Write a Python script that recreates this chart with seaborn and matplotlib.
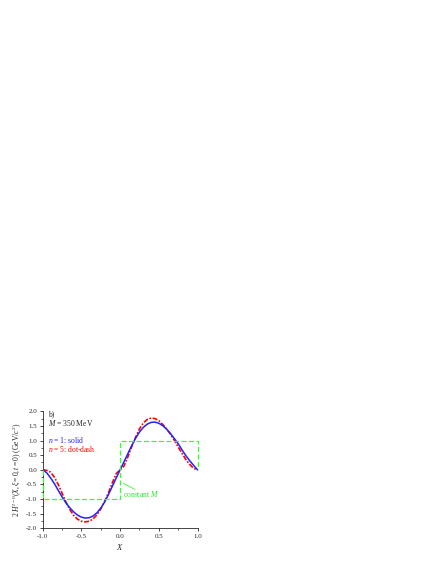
# H^{I=0}(X) for n = 1 and n = 5, with the constant-M step
import numpy as np
import pandas as pd
import matplotlib
matplotlib.use("Agg")
import matplotlib.pyplot as plt
import seaborn as sb

# values
x_grid = [-1.00, -0.95, -0.90, -0.85, -0.80, -0.75, -0.70, -0.65, -0.60, -0.55,
          -0.50, -0.45, -0.40, -0.35, -0.30, -0.25, -0.20, -0.15, -0.10, -0.05,
          0.00, 0.05, 0.10, 0.15, 0.20, 0.25, 0.30, 0.35, 0.40, 0.45,
          0.50, 0.55, 0.60, 0.65, 0.70, 0.75, 0.80, 0.85, 0.90, 0.95, 1.00]
h_n1 = [0.00, -0.10, -0.27, -0.47, -0.70, -0.93, -1.13, -1.30, -1.44, -1.55,
        -1.62, -1.65, -1.64, -1.58, -1.47, -1.31, -1.10, -0.84, -0.56, -0.28,
        0.00, 0.27, 0.55, 0.83, 1.08, 1.29, 1.45, 1.56, 1.62, 1.63,
        1.59, 1.51, 1.39, 1.24, 1.07, 0.89, 0.68, 0.48, 0.31, 0.15, 0.00]
h_n5 = [0.00, -0.02, -0.08, -0.25, -0.50, -0.80, -1.10, -1.36, -1.56, -1.69,
        -1.76, -1.78, -1.76, -1.68, -1.54, -1.34, -1.08, -0.78, -0.44, -0.13,
        0.00, 0.13, 0.44, 0.79, 1.11, 1.40, 1.60, 1.72, 1.77, 1.75,
        1.68, 1.55, 1.40, 1.22, 1.01, 0.78, 0.56, 0.35, 0.18, 0.05, 0.00]
const_x = [-1.0, -1.0, 0.0, 0.0, 1.0, 1.0]
const_y = [0.0, -1.0, -1.0, 1.0, 1.0, 0.0]

df = pd.DataFrame({"X": x_grid, "n1": h_n1, "n5": h_n5})

sb.set_style("ticks")
plt.rcParams["font.family"] = ["Liberation Serif", "DejaVu Serif"]
plt.rcParams["mathtext.fontset"] = "custom"
plt.rcParams["mathtext.rm"] = "Liberation Serif"
plt.rcParams["mathtext.it"] = "Liberation Serif:italic"

fig = plt.figure(figsize=(4.36, 5.64), dpi=100)
ax = fig.add_axes([0.098, 0.0633, 0.355, 0.2075])

ax.plot(const_x, const_y, color="#33ff33", lw=0.9, ls=(0, (4, 2)), zorder=4,
        clip_on=False)
sb.lineplot(data=df, x="X", y="n1", ax=ax, color="#2222ff", lw=1.1, zorder=3)
sb.lineplot(data=df, x="X", y="n5", ax=ax, color="#ff0000", lw=1.2,
            ls=(0, (3, 1, 1, 1)), zorder=2)

ax.set_xlim(-1, 1)
ax.set_ylim(-2, 2)
ax.set_xticks([-1, -0.5, 0, 0.5, 1])
ax.set_xticks([-0.75, -0.25, 0.25, 0.75], minor=True)
ax.set_yticks(np.arange(-2, 2.01, 0.5))
ax.set_yticks(np.arange(-1.75, 2, 0.5), minor=True)
ax.xaxis.set_major_formatter(matplotlib.ticker.FormatStrFormatter("%.1f"))
ax.yaxis.set_major_formatter(matplotlib.ticker.FormatStrFormatter("%.1f"))
ax.tick_params(which="major", length=2.5, width=0.6, labelsize=5, pad=1.5)
ax.tick_params(which="minor", length=1.5, width=0.5)
sb.despine(ax=ax)
for s in ["left", "bottom"]:
    ax.spines[s].set_linewidth(0.6)

ax.set_xlabel("$X$", fontsize=6, labelpad=2)
ax.set_ylabel(r"2 $H^{I=0}(X, \xi = 0, t = 0)$ (GeV/$c^2$)", fontsize=5.5, labelpad=2)

ax.text(-0.93, 1.89, "b)", fontsize=5.5, va="center")
ax.text(-0.93, 1.60, "$M$ = 350 MeV", fontsize=5.5, va="center")
ax.text(-0.93, 1.02, "$n$ = 1: solid", fontsize=5.5, va="center", color="#2222ff")
ax.text(-0.93, 0.72, "$n$ = 5: dot-dash", fontsize=5.5, va="center", color="#ff0000")

ax.annotate("constant $M$", xy=(0.04, -0.46), xytext=(0.04, -0.83),
            fontsize=5.5, color="#33dd33", va="center")
ax.plot([0.04, 0.19], [-0.46, -0.67], color="#33ff33", lw=0.6)

fig.savefig("out.png", dpi=100)
